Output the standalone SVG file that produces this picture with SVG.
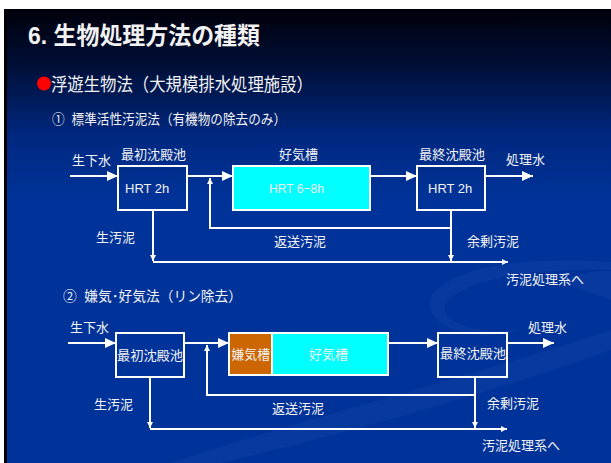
<svg xmlns="http://www.w3.org/2000/svg" width="611" height="463" viewBox="0 0 611 463">
  <defs>
    <linearGradient id="bg" x1="0" y1="9" x2="0" y2="463" gradientUnits="userSpaceOnUse">
      <stop offset="0" stop-color="#00000a"/>
      <stop offset="0.12" stop-color="#000e35"/>
      <stop offset="0.28" stop-color="#002880"/>
      <stop offset="0.42" stop-color="#003399"/>
      <stop offset="1" stop-color="#003399"/>
    </linearGradient>
    <marker id="big" markerUnits="userSpaceOnUse" markerWidth="12" markerHeight="10" refX="11" refY="5" orient="auto">
      <path d="M0,0 L11,5 L0,10 z" fill="#ffffff"/>
    </marker>
    <marker id="small" markerUnits="userSpaceOnUse" markerWidth="7" markerHeight="6" refX="6" refY="3" orient="auto">
      <path d="M0,0 L6,3 L0,6 z" fill="#ffffff"/>
    </marker>
  </defs>
  <style>
    .t { font-family: "Liberation Sans", "Noto Sans CJK JP", sans-serif; fill: #f2f2f2; }
    .lbl { font-size: 13px; }
    .box { fill: none; stroke: #ffffff; stroke-width: 2; }
    .ln { fill: none; stroke: #ffffff; stroke-width: 2; }
  </style>

  <!-- background -->
  <rect x="0" y="0" width="611" height="463" fill="#ffffff"/>
  <rect x="4" y="9" width="607" height="454" fill="#000000"/>
  <rect x="7" y="9" width="604" height="454" fill="url(#bg)"/>
  <g fill="#2a56b8" opacity="0.18">
    <path d="M170,463 C300,420 460,380 611,330 L611,350 C470,400 320,440 220,463 z"/>
    <path d="M430,300 C440,270 520,255 611,262 L611,270 C530,268 460,280 445,305 C440,320 470,335 520,330 C470,345 425,325 430,300 z"/>
    <path d="M560,280 C585,272 605,270 611,271 L611,300 C600,296 580,290 560,280 z"/>
  </g>

  <!-- headings -->
  <g id="title">
    <text class="t" x="28" y="44" font-size="24" font-weight="bold" textLength="232" lengthAdjust="spacingAndGlyphs" fill="#ffffff">6. 生物処理方法の種類</text>
  </g>
  <g id="subtitle">
    <circle cx="44" cy="83.5" r="7" fill="#ff0000"/>
    <text class="t" x="51" y="91" font-size="18" textLength="262" lengthAdjust="spacingAndGlyphs">浮遊生物法（大規模排水処理施設）</text>
  </g>
  <g id="heading1">
    <text class="t" x="52" y="124" font-size="14" textLength="234" lengthAdjust="spacingAndGlyphs" xml:space="preserve">①  標準活性汚泥法（有機物の除去のみ）</text>
  </g>
  <g id="heading2">
    <text class="t" x="63" y="301" font-size="14" textLength="179" lengthAdjust="spacingAndGlyphs" xml:space="preserve">②  嫌気･好気法（リン除去）</text>
  </g>

  <!-- connectors -->
  <g id="connectors">
    <!-- diagram 1 -->
    <line class="ln" x1="70" y1="176" x2="118" y2="176" marker-end="url(#big)"/>
    <line class="ln" x1="187" y1="176" x2="233" y2="176" marker-end="url(#big)"/>
    <line class="ln" x1="370" y1="176" x2="417" y2="176" marker-end="url(#big)"/>
    <line class="ln" x1="485" y1="176" x2="533" y2="176" marker-end="url(#big)"/>
    <polyline class="ln" points="451,228 210,228 210,178" marker-end="url(#small)"/>
    <line class="ln" x1="451" y1="210" x2="451" y2="261" marker-end="url(#small)"/>
    <line class="ln" x1="153" y1="210" x2="153" y2="261" marker-end="url(#small)"/>
    <line class="ln" x1="153" y1="262" x2="508" y2="262" marker-end="url(#small)"/>
    <!-- diagram 2 -->
    <line class="ln" x1="68" y1="343" x2="116" y2="343" marker-end="url(#big)"/>
    <line class="ln" x1="184" y1="343" x2="229" y2="343" marker-end="url(#big)"/>
    <line class="ln" x1="388" y1="343" x2="438" y2="343" marker-end="url(#big)"/>
    <line class="ln" x1="507" y1="343" x2="554" y2="343" marker-end="url(#big)"/>
    <polyline class="ln" points="475,395 207,395 207,345" marker-end="url(#small)"/>
    <line class="ln" x1="475" y1="377" x2="475" y2="428" marker-end="url(#small)"/>
    <line class="ln" x1="150" y1="377" x2="150" y2="428" marker-end="url(#small)"/>
    <line class="ln" x1="150" y1="429" x2="507" y2="429" marker-end="url(#small)"/>
  </g>

  <!-- diagram 1 nodes -->
  <g id="d1-input">
    <text class="t lbl" x="72" y="165">生下水</text>
  </g>
  <g id="d1-primary">
    <rect class="box" x="118" y="166" width="69" height="44"/>
    <text class="t lbl" x="121" y="159" textLength="65" lengthAdjust="spacingAndGlyphs">最初沈殿池</text>
    <text class="t lbl" x="125" y="193">HRT 2h</text>
  </g>
  <g id="d1-aerobic">
    <rect x="233" y="166" width="137" height="44" fill="#00ffff" stroke="#ffffff" stroke-width="2"/>
    <text class="t lbl" x="279" y="159">好気槽</text>
    <text class="t lbl" x="269" y="193" textLength="55" lengthAdjust="spacingAndGlyphs">HRT 6−8h</text>
  </g>
  <g id="d1-final">
    <rect class="box" x="417" y="166" width="68" height="44"/>
    <text class="t lbl" x="419" y="159" textLength="66" lengthAdjust="spacingAndGlyphs">最終沈殿池</text>
    <text class="t lbl" x="428" y="193">HRT 2h</text>
  </g>
  <g id="d1-output">
    <text class="t lbl" x="506" y="164">処理水</text>
  </g>
  <g id="d1-labels">
    <text class="t lbl" x="96" y="241.5">生汚泥</text>
    <text class="t lbl" x="274" y="245.5">返送汚泥</text>
    <text class="t lbl" x="467" y="246">余剰汚泥</text>
    <text class="t lbl" x="506" y="284">汚泥処理系へ</text>
  </g>

  <!-- diagram 2 nodes -->
  <g id="d2-input">
    <text class="t lbl" x="70" y="331.5">生下水</text>
  </g>
  <g id="d2-primary">
    <rect class="box" x="116" y="333" width="68" height="44"/>
    <text class="t lbl" x="117" y="360" textLength="66" lengthAdjust="spacingAndGlyphs">最初沈殿池</text>
  </g>
  <g id="d2-anaerobic">
    <rect x="229" y="333" width="43" height="42" fill="#cc6600" stroke="#ffffff" stroke-width="2"/>
    <text class="t lbl" x="231.5" y="359" textLength="38.5" lengthAdjust="spacingAndGlyphs">嫌気槽</text>
  </g>
  <g id="d2-aerobic">
    <rect x="272" y="333" width="116" height="42" fill="#00ffff" stroke="#ffffff" stroke-width="2"/>
    <text class="t lbl" x="309" y="359">好気槽</text>
  </g>
  <g id="d2-final">
    <rect class="box" x="438" y="333" width="69" height="44"/>
    <text class="t lbl" x="440" y="358" textLength="66" lengthAdjust="spacingAndGlyphs">最終沈殿池</text>
  </g>
  <g id="d2-output">
    <text class="t lbl" x="528" y="331.5">処理水</text>
  </g>
  <g id="d2-labels">
    <text class="t lbl" x="94" y="409">生汚泥</text>
    <text class="t lbl" x="272" y="413">返送汚泥</text>
    <text class="t lbl" x="487" y="407.5">余剰汚泥</text>
    <text class="t lbl" x="482" y="450">汚泥処理系へ</text>
  </g>
</svg>
